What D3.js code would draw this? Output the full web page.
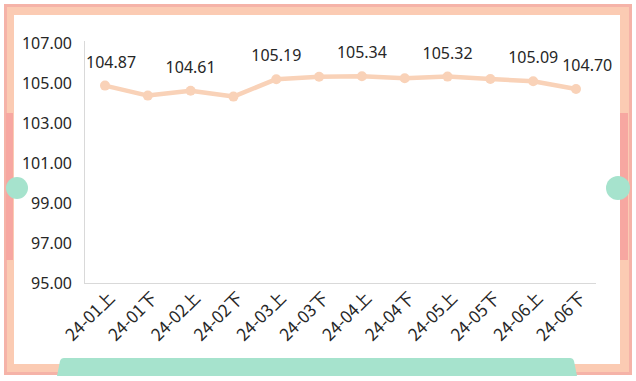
<!DOCTYPE html>
<html><head><meta charset="utf-8">
<script src="https://cdn.jsdelivr.net/npm/d3@7"></script>
<style>
html,body{margin:0;padding:0;background:#fff;}
svg{display:block;font-family:"Noto Sans","Noto Sans CJK SC",sans-serif;}
</style></head>
<body>
<svg id="c" width="636" height="381"></svg>
<script>
const categories = ["24-01上","24-01下","24-02上","24-02下","24-03上","24-03下","24-04上","24-04下","24-05上","24-05下","24-06上","24-06下"];
const values = [104.87,104.37,104.61,104.32,105.19,105.31,105.34,105.24,105.32,105.20,105.09,104.70];
const labelIdx = [0,2,4,6,8,10,11];
const yTicks = [95,97,99,101,103,105,107];

const svg = d3.select("#c");
// frame
svg.append("rect").attr("x",4).attr("y",4).attr("width",628).attr("height",371).attr("fill","#f5b3a8");
svg.append("rect").attr("x",7).attr("y",7).attr("width",622).attr("height",365).attr("fill","#fbcbb3");
svg.append("rect").attr("x",14).attr("y",15).attr("width",606).attr("height",349).attr("fill","#ffffff");
// side bars
svg.append("rect").attr("x",6).attr("y",113).attr("width",7).attr("height",147).attr("fill","#f7a7a1");
svg.append("rect").attr("x",620).attr("y",113).attr("width",8).attr("height",147).attr("fill","#f7a7a1");
svg.append("circle").attr("cx",17).attr("cy",188).attr("r",11).attr("fill","#a6e3cd");
svg.append("circle").attr("cx",618).attr("cy",188).attr("r",12).attr("fill","#a6e3cd");
// bottom bar
svg.append("path").attr("d","M57,376 L60,361 Q61,358 64,358 L570,358 Q573,358 574,361 L577,376 Z").attr("fill","#a6e3cd");

const x = d3.scalePoint().domain(categories).range([105,576]);
const y = d3.scaleLinear().domain([95,107]).range([283,43]);

// axes lines
svg.append("line").attr("x1",84.5).attr("x2",84.5).attr("y1",41).attr("y2",283.5).attr("stroke","#d9d9d9");
svg.append("line").attr("x1",84).attr("x2",596).attr("y1",283.5).attr("y2",283.5).attr("stroke","#d9d9d9");

const yAxis = d3.axisLeft(y).tickValues(yTicks).tickFormat(d3.format(".2f")).tickSize(0).tickPadding(0);
const ga = svg.append("g").attr("transform","translate(72,0)").call(yAxis);
ga.select(".domain").remove();
ga.selectAll("text").attr("font-size",16).attr("fill","#262626").attr("font-family","'Noto Sans',sans-serif");

const xAxis = d3.axisBottom(x).tickSize(0).tickPadding(0);
const gx = svg.append("g").attr("transform","translate(0,295)").call(xAxis);
gx.select(".domain").remove();
gx.selectAll("text").attr("font-size",17).attr("fill","#262626")
  .attr("font-family","'Noto Sans CJK SC',sans-serif")
  .attr("text-anchor","end").attr("dy","0.35em").attr("dx",0)
  .attr("transform","translate(6,0) rotate(-45)");

const line = d3.line().x((d,i)=>x(categories[i])).y(d=>y(d));
svg.append("path").datum(values).attr("d",line).attr("fill","none")
  .attr("stroke","#f9d2b8").attr("stroke-width",4.5).attr("stroke-linejoin","round");
svg.selectAll("circle.pt").data(values).enter().append("circle").attr("class","pt")
  .attr("cx",(d,i)=>x(categories[i])).attr("cy",d=>y(d)).attr("r",5).attr("fill","#f9d2b8");

// labels with overlap avoidance
let prevRight = 82;
labelIdx.forEach(i=>{
  const t = svg.append("text").text(values[i].toFixed(2))
    .attr("font-size",16).attr("fill","#262626").attr("text-anchor","middle")
    .attr("x",x(categories[i])).attr("y",y(values[i])-18);
  const bb = t.node().getBBox();
  if (bb.x < prevRight + 4) {
    t.attr("x", x(categories[i]) + (prevRight + 4 - bb.x));
  }
  const b2 = t.node().getBBox();
  prevRight = b2.x + b2.width;
});
</script>
</body></html>
